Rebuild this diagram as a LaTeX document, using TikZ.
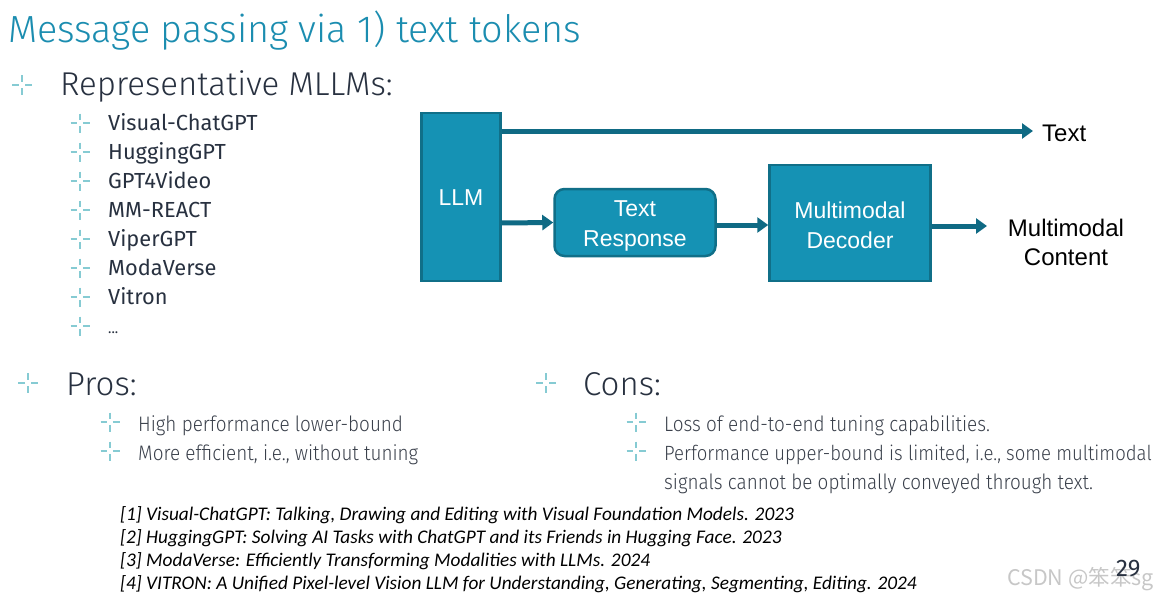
\documentclass[tikz,border=0pt]{standalone}
\usepackage{fontspec}
\setmainfont{Liberation Sans}
\newfontfamily\lightf{Fira Sans Light}
\newfontfamily\condf{Fira Sans Light}[FakeStretch=0.9]
\newfontfamily\itemf{Fira Sans}
\newfontfamily\notef{Carlito}
\newfontfamily\cjkf{Noto Sans CJK SC}
\usetikzlibrary{arrows.meta}
\definecolor{titlec}{HTML}{1B8DB0}
\definecolor{boxf}{HTML}{1592B4}
\definecolor{boxd}{HTML}{106F88}
\definecolor{arrc}{HTML}{0F6A84}
\definecolor{bulc}{HTML}{86CBD3}
\definecolor{txtc}{HTML}{283140}
\definecolor{subc}{HTML}{3A404B}
\begin{document}
\begin{tikzpicture}[x=1pt,y=-1pt,
  crossb/.pic={\draw[bulc,line width=1.7pt] (-10,0)--(-3,0) (3,0)--(10,0) (0,-10)--(0,-3) (0,3)--(0,10);},
  blk/.style={draw=boxd,fill=boxf,line width=2.5pt,text=white,font=\fontsize{23}{30}\selectfont,align=center,inner sep=0pt},
  conn/.style={arrc,line width=5pt,-{Triangle[length=11pt,width=15pt]}},
  head/.style={anchor=base west,inner sep=0pt,text=txtc,font=\lightf\fontsize{33}{40}\selectfont},
  itm/.style={anchor=base west,inner sep=0pt,text=txtc,font=\itemf\fontsize{21.8}{24}\selectfont},
  pc/.style={anchor=base west,inner sep=0pt,text=subc,font=\condf\fontsize{21}{29}\selectfont},
  note/.style={anchor=base west,inner sep=0pt,text=black,font=\notef\itshape\fontsize{19.3}{23}\selectfont},
  lab/.style={inner sep=0pt,text=black,font=\fontsize{24}{29}\selectfont,align=center}]
\useasboundingbox (0,0) rectangle (1163,597);
\fill[white] (0,0) rectangle (1163,597);
% title
\node[anchor=base west,inner sep=0pt,text=titlec,font=\lightf\fontsize{37.8}{44}\selectfont] (title) at (8,42) {Message passing via 1) text tokens};
% representative
\pic at (22,85) {crossb};
\node[head] (rep) at (60,95) {Representative MLLMs:};
\foreach \t [count=\i from 0] in {Visual-ChatGPT,HuggingGPT,GPT4Video,MM-REACT,ViperGPT,ModaVerse,Vitron}{
  \pic[scale=0.95] at (80,{123+29*\i}) {crossb};
  \node[itm] (it\i) at (108,{130.5+29*\i}) {\t};
}
\pic[scale=0.95] at (80,326) {crossb};
\node[itm,font=\itemf\fontsize{14}{18}\selectfont] (it7) at (108,333) {...};
% diagram
\node[blk,minimum width=79pt,minimum height=168pt] (llm) at (461,197) {};
\node[inner sep=0pt,text=white,font=\fontsize{23}{30}\selectfont] (llmt) at (461,198) {LLM};
\node[blk,rounded corners=10pt,minimum width=161pt,minimum height=67pt] (tr) at (635,222.5) {};
\node[inner sep=0pt,text=white,font=\fontsize{23}{30}\selectfont,align=center] (trt) at (635,225.5) {Text\\Response};
\node[blk,minimum width=161pt,minimum height=116pt] (md) at (850,223) {};
\node[inner sep=0pt,text=white,font=\fontsize{23}{30}\selectfont,align=center] (mdt) at (850,225) {Multimodal\\Decoder};
\node[lab,anchor=west] (txt) at (1042,133) {Text};
\node[lab] (mc) at (1066,242) {Multimodal\\Content};
\coordinate (tend) at (1033,131);
\draw[conn] (llm.east |- tend) -- (tend);
\coordinate (a1) at (0,223);
\draw[conn] (llm.east |- a1) -- (tr.west);
\coordinate (a2) at (0,225);
\draw[conn] (tr.east |- a2) -- (md.west |- a2);
\coordinate (mend) at (987,226);
\draw[conn] (md.east |- mend) -- (mend);
% pros / cons
\pic at (28,383) {crossb};
\node[head] (pros) at (66,395) {Pros:};
\pic[scale=0.95] at (110,422) {crossb};
\node[pc] (p1) at (138,431) {High performance lower-bound};
\pic[scale=0.95] at (110,451) {crossb};
\node[pc] (p2) at (138,460) {More efficient, i.e., without tuning};
\pic at (546,383) {crossb};
\node[head] (cons) at (583,395) {Cons:};
\pic[scale=0.95] at (636,422) {crossb};
\node[pc] (c1) at (664,431) {Loss of end-to-end tuning capabilities.};
\pic[scale=0.95] at (636,451) {crossb};
\node[pc,font=\condf\fontsize{20.6}{29}\selectfont] (c2) at (664,460) {Performance upper-bound is limited, i.e., some multimodal};
\node[pc] (c3) at (664,489) {signals cannot be optimally conveyed through text.};
% notes
\node[note] (n1) at (120,520) {[1] Visual-ChatGPT: Talking, Drawing and Editing with Visual Foundation Models. 2023};
\node[note] (n2) at (120,543) {[2] HuggingGPT: Solving AI Tasks with ChatGPT and its Friends in Hugging Face. 2023};
\node[note] (n3) at (120,566) {[3] ModaVerse: Efficiently Transforming Modalities with LLMs. 2024};
\node[note] (n4) at (120,589) {[4] VITRON: A Unified Pixel-level Vision LLM for Understanding, Generating, Segmenting, Editing. 2024};
\node[anchor=base west,inner sep=0pt,text=black!22,font=\cjkf\fontsize{21.5}{24}\selectfont] (wm) at (1007,585) {CSDN @笨笨sg};
\node[anchor=base west,inner sep=0pt,text=txtc,font=\itemf\fontsize{24}{28}\selectfont] (pg) at (1116,576) {29};
\end{tikzpicture}
\end{document}
